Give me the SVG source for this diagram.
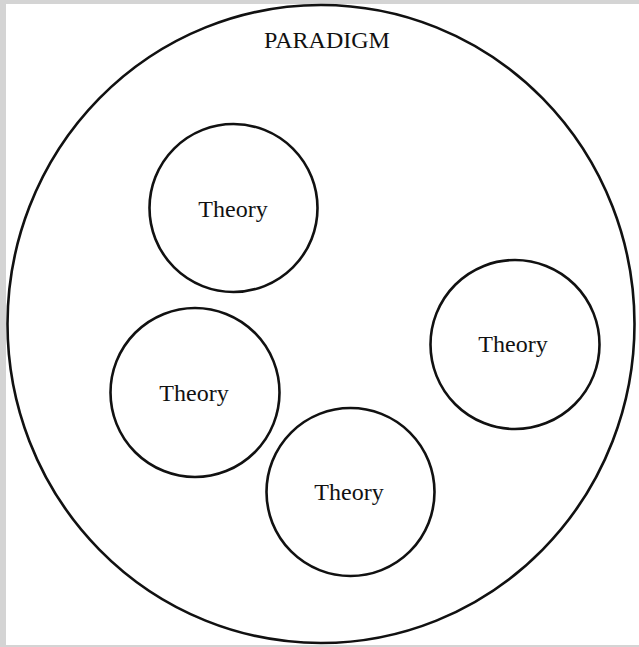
<svg xmlns="http://www.w3.org/2000/svg" width="639" height="647" viewBox="0 0 639 647">
<style>
.c{fill:none;stroke:#111;stroke-width:2.6}
.t{font-family:"Liberation Serif",serif;font-size:24px;fill:#111;text-anchor:middle}
</style>
<rect x="0" y="0" width="639" height="647" fill="#d4d4d4"/>
<rect x="6" y="4" width="633" height="641" fill="#fff"/>
<g id="paradigm">
<ellipse class="c" cx="321" cy="324" rx="313.5" ry="319"/>
<text class="t" x="327" y="48">PARADIGM</text>
</g>
<g id="theory1">
<circle class="c" cx="233.5" cy="208" r="84"/>
<text class="t" x="233" y="217">Theory</text>
</g>
<g id="theory2">
<circle class="c" cx="195" cy="392.5" r="84.5"/>
<text class="t" x="194" y="401">Theory</text>
</g>
<g id="theory3">
<circle class="c" cx="515" cy="344.5" r="84.5"/>
<text class="t" x="513" y="352">Theory</text>
</g>
<g id="theory4">
<circle class="c" cx="350.5" cy="492" r="84"/>
<text class="t" x="349" y="500">Theory</text>
</g>
<g id="connectors"/>
</svg>
